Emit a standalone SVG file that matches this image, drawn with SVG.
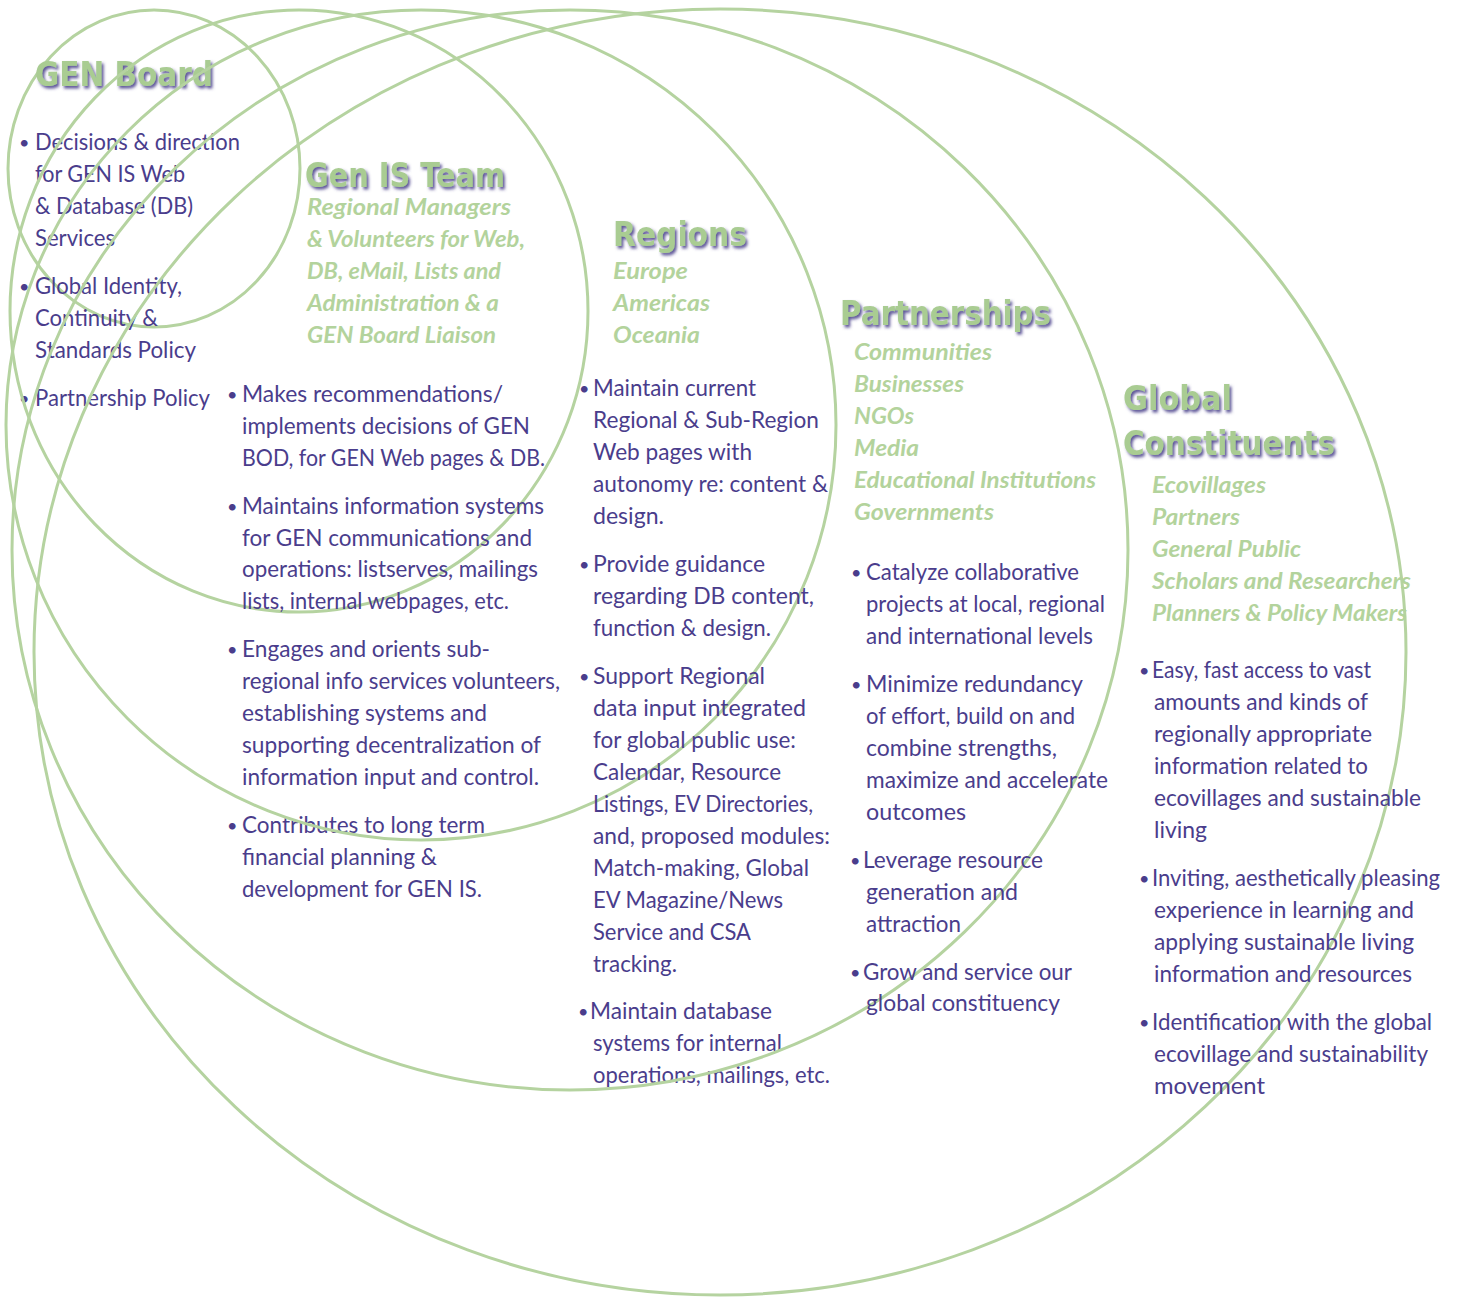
<svg xmlns="http://www.w3.org/2000/svg" width="1459" height="1297" viewBox="0 0 1459 1297">
<defs>
<filter id="sh" x="-10%" y="-30%" width="130%" height="170%">
<feDropShadow dx="2" dy="2.5" stdDeviation="1.6" flood-color="#3f3585" flood-opacity="0.85"/>
</filter>
</defs>
<style>
.ring{fill:none;stroke:#b5d3a0;stroke-width:3}
.h{font-family:"DejaVu Sans",Verdana,sans-serif;font-weight:bold;font-size:33px;fill:#a9cc92;filter:url(#sh)}
.s{font-family:Lato,"Open Sans",sans-serif;font-weight:bold;font-style:italic;font-size:23px;fill:#b3d39c}
.t{font-family:Lato,"Open Sans",sans-serif;font-size:24px;fill:#4a3d8c}
.g{font-size:23px}
.b{font-family:Lato,"Open Sans",sans-serif;font-size:18px;fill:#4a3d8c}
</style>
<rect width="1459" height="1297" fill="#ffffff"/>

<g id="gen-board">
<ellipse class="ring" cx="154" cy="168.5" rx="146" ry="158.5"/>
<text class="h" x="35" y="86" textLength="178" lengthAdjust="spacingAndGlyphs">GEN Board</text>
<text class="b" x="19" y="149">•</text>
<text class="t" x="35" y="150" textLength="205" lengthAdjust="spacingAndGlyphs">Decisions &amp; direction</text>
<text class="t" x="35" y="182" textLength="150" lengthAdjust="spacingAndGlyphs">for GEN  IS Web</text>
<text class="t" x="35" y="214" textLength="158" lengthAdjust="spacingAndGlyphs">&amp; Database (DB)</text>
<text class="t" x="35" y="246" textLength="80" lengthAdjust="spacingAndGlyphs">Services</text>
<text class="b" x="19" y="293">•</text>
<text class="t" x="35" y="294" textLength="147" lengthAdjust="spacingAndGlyphs">Global Identity,</text>
<text class="t" x="35" y="326" textLength="123" lengthAdjust="spacingAndGlyphs">Continuity &amp;</text>
<text class="t" x="35" y="358" textLength="161" lengthAdjust="spacingAndGlyphs">Standards Policy</text>
<text class="b" x="19" y="405">•</text>
<text class="t" x="35" y="406" textLength="175" lengthAdjust="spacingAndGlyphs">Partnership Policy</text>
</g>

<g id="gen-is-team">
<ellipse class="ring" cx="299" cy="311" rx="289" ry="301"/>
<text class="h" x="305" y="187" textLength="200" lengthAdjust="spacingAndGlyphs">Gen IS Team</text>
<text class="s" x="307" y="215" textLength="204" lengthAdjust="spacingAndGlyphs">Regional Managers</text>
<text class="s" x="307" y="247" textLength="218" lengthAdjust="spacingAndGlyphs">&amp; Volunteers for Web,</text>
<text class="s" x="307" y="279" textLength="194" lengthAdjust="spacingAndGlyphs">DB, eMail, Lists and</text>
<text class="s" x="307" y="311" textLength="192" lengthAdjust="spacingAndGlyphs">Administration &amp; a</text>
<text class="s" x="307" y="343" textLength="189" lengthAdjust="spacingAndGlyphs">GEN Board Liaison</text>
<text class="b" x="227" y="401">•</text>
<text class="t" x="242" y="402" textLength="261" lengthAdjust="spacingAndGlyphs">Makes recommendations/</text>
<text class="t" x="242" y="434" textLength="288" lengthAdjust="spacingAndGlyphs">implements decisions of GEN</text>
<text class="t" x="242" y="466" textLength="303" lengthAdjust="spacingAndGlyphs">BOD,  for GEN Web pages &amp; DB.</text>
<text class="b" x="227" y="513">•</text>
<text class="t" x="242" y="514" textLength="302" lengthAdjust="spacingAndGlyphs">Maintains information systems</text>
<text class="t" x="242" y="546" textLength="290" lengthAdjust="spacingAndGlyphs">for GEN communications and</text>
<text class="t" x="242" y="577" textLength="296" lengthAdjust="spacingAndGlyphs">operations:  listserves, mailings</text>
<text class="t" x="242" y="609" textLength="267" lengthAdjust="spacingAndGlyphs">lists, internal webpages, etc.</text>
<text class="b" x="227" y="656">•</text>
<text class="t" x="242" y="657" textLength="248" lengthAdjust="spacingAndGlyphs">Engages and orients sub-</text>
<text class="t g" x="242" y="689" textLength="318" lengthAdjust="spacingAndGlyphs">regional info services volunteers,</text>
<text class="t" x="242" y="721" textLength="245" lengthAdjust="spacingAndGlyphs">establishing systems and</text>
<text class="t" x="242" y="753" textLength="299" lengthAdjust="spacingAndGlyphs">supporting decentralization of</text>
<text class="t" x="242" y="785" textLength="297" lengthAdjust="spacingAndGlyphs">information input and control.</text>
<text class="b" x="227" y="832">•</text>
<text class="t" x="242" y="833" textLength="243" lengthAdjust="spacingAndGlyphs">Contributes to long term</text>
<text class="t" x="242" y="865" textLength="195" lengthAdjust="spacingAndGlyphs">financial planning &amp;</text>
<text class="t" x="242" y="897" textLength="240" lengthAdjust="spacingAndGlyphs">development for GEN IS.</text>
</g>

<g id="regions">
<ellipse class="ring" cx="421" cy="425" rx="415" ry="415"/>
<text class="h" x="613" y="246" textLength="134" lengthAdjust="spacingAndGlyphs">Regions</text>
<text class="s" x="613" y="279" textLength="75" lengthAdjust="spacingAndGlyphs">Europe</text>
<text class="s" x="613" y="311" textLength="97" lengthAdjust="spacingAndGlyphs">Americas</text>
<text class="s" x="613" y="343" textLength="87" lengthAdjust="spacingAndGlyphs">Oceania</text>
<text class="b" x="579" y="395">•</text>
<text class="t" x="593" y="396" textLength="163" lengthAdjust="spacingAndGlyphs">Maintain current</text>
<text class="t" x="593" y="428" textLength="226" lengthAdjust="spacingAndGlyphs">Regional &amp; Sub-Region</text>
<text class="t" x="593" y="460" textLength="159" lengthAdjust="spacingAndGlyphs">Web pages with</text>
<text class="t" x="593" y="492" textLength="235" lengthAdjust="spacingAndGlyphs">autonomy re:  content &amp;</text>
<text class="t" x="593" y="524" textLength="71" lengthAdjust="spacingAndGlyphs">design.</text>
<text class="b" x="579" y="571">•</text>
<text class="t" x="593" y="572" textLength="172" lengthAdjust="spacingAndGlyphs">Provide guidance</text>
<text class="t" x="593" y="604" textLength="221" lengthAdjust="spacingAndGlyphs">regarding DB  content,</text>
<text class="t" x="593" y="636" textLength="178" lengthAdjust="spacingAndGlyphs">function &amp; design.</text>
<text class="b" x="579" y="683">•</text>
<text class="t" x="593" y="684" textLength="172" lengthAdjust="spacingAndGlyphs">Support Regional</text>
<text class="t" x="593" y="716" textLength="213" lengthAdjust="spacingAndGlyphs">data input  integrated</text>
<text class="t" x="593" y="748" textLength="203" lengthAdjust="spacingAndGlyphs">for global public use:</text>
<text class="t" x="593" y="780" textLength="188" lengthAdjust="spacingAndGlyphs">Calendar,  Resource</text>
<text class="t" x="593" y="812" textLength="220" lengthAdjust="spacingAndGlyphs">Listings, EV Directories,</text>
<text class="t" x="593" y="844" textLength="237" lengthAdjust="spacingAndGlyphs">and, proposed modules:</text>
<text class="t" x="593" y="876" textLength="216" lengthAdjust="spacingAndGlyphs">Match-making, Global</text>
<text class="t" x="593" y="908" textLength="190" lengthAdjust="spacingAndGlyphs">EV Magazine/News</text>
<text class="t" x="593" y="940" textLength="158" lengthAdjust="spacingAndGlyphs">Service and CSA</text>
<text class="t" x="593" y="972" textLength="84" lengthAdjust="spacingAndGlyphs">tracking.</text>
<text class="b" x="578" y="1018">•</text>
<text class="t" x="590" y="1019" textLength="182" lengthAdjust="spacingAndGlyphs">Maintain database</text>
<text class="t" x="593" y="1051" textLength="189" lengthAdjust="spacingAndGlyphs">systems for internal</text>
<text class="t" x="593" y="1083" textLength="237" lengthAdjust="spacingAndGlyphs">operations, mailings, etc.</text>
</g>

<g id="partnerships">
<ellipse class="ring" cx="570" cy="550" rx="558" ry="540"/>
<text class="h" x="840" y="325" textLength="211" lengthAdjust="spacingAndGlyphs">Partnerships</text>
<text class="s" x="854" y="360" textLength="138" lengthAdjust="spacingAndGlyphs">Communities</text>
<text class="s" x="854" y="392" textLength="110" lengthAdjust="spacingAndGlyphs">Businesses</text>
<text class="s" x="854" y="424" textLength="60" lengthAdjust="spacingAndGlyphs">NGOs</text>
<text class="s" x="854" y="456" textLength="65" lengthAdjust="spacingAndGlyphs">Media</text>
<text class="s" x="854" y="488" textLength="242" lengthAdjust="spacingAndGlyphs">Educational Institutions</text>
<text class="s" x="854" y="520" textLength="140" lengthAdjust="spacingAndGlyphs">Governments</text>
<text class="b" x="851" y="579">•</text>
<text class="t" x="866" y="580" textLength="213" lengthAdjust="spacingAndGlyphs">Catalyze collaborative</text>
<text class="t" x="866" y="612" textLength="239" lengthAdjust="spacingAndGlyphs">projects at local, regional</text>
<text class="t" x="866" y="644" textLength="227" lengthAdjust="spacingAndGlyphs">and international levels</text>
<text class="b" x="851" y="691">•</text>
<text class="t" x="866" y="692" textLength="217" lengthAdjust="spacingAndGlyphs">Minimize redundancy</text>
<text class="t" x="866" y="724" textLength="209" lengthAdjust="spacingAndGlyphs">of effort, build on and</text>
<text class="t" x="866" y="756" textLength="191" lengthAdjust="spacingAndGlyphs">combine strengths,</text>
<text class="t" x="866" y="788" textLength="242" lengthAdjust="spacingAndGlyphs">maximize and accelerate</text>
<text class="t" x="866" y="820" textLength="100" lengthAdjust="spacingAndGlyphs">outcomes</text>
<text class="b" x="850" y="867">•</text>
<text class="t" x="863" y="868" textLength="180" lengthAdjust="spacingAndGlyphs">Leverage resource</text>
<text class="t" x="866" y="900" textLength="152" lengthAdjust="spacingAndGlyphs">generation and</text>
<text class="t" x="866" y="932" textLength="95" lengthAdjust="spacingAndGlyphs">attraction</text>
<text class="b" x="850" y="979">•</text>
<text class="t" x="863" y="980" textLength="209" lengthAdjust="spacingAndGlyphs">Grow and service our</text>
<text class="t" x="866" y="1011" textLength="194" lengthAdjust="spacingAndGlyphs">global constituency</text>
</g>

<g id="global-constituents">
<ellipse class="ring" cx="720" cy="652" rx="686" ry="643"/>
<text class="h" x="1123" y="410" textLength="109" lengthAdjust="spacingAndGlyphs">Global</text>
<text class="h" x="1123" y="455" textLength="212" lengthAdjust="spacingAndGlyphs">Constituents</text>
<text class="s" x="1152" y="493" textLength="114" lengthAdjust="spacingAndGlyphs">Ecovillages</text>
<text class="s" x="1152" y="525" textLength="88" lengthAdjust="spacingAndGlyphs">Partners</text>
<text class="s" x="1152" y="557" textLength="149" lengthAdjust="spacingAndGlyphs">General Public</text>
<text class="s" x="1152" y="589" textLength="259" lengthAdjust="spacingAndGlyphs">Scholars and Researchers</text>
<text class="s" x="1152" y="621" textLength="255" lengthAdjust="spacingAndGlyphs">Planners &amp; Policy Makers</text>
<text class="b" x="1139" y="677">•</text>
<text class="t" x="1152" y="678" textLength="219" lengthAdjust="spacingAndGlyphs">Easy, fast access to vast</text>
<text class="t" x="1154" y="710" textLength="214" lengthAdjust="spacingAndGlyphs">amounts and kinds of</text>
<text class="t" x="1154" y="742" textLength="218" lengthAdjust="spacingAndGlyphs">regionally appropriate</text>
<text class="t" x="1154" y="774" textLength="214" lengthAdjust="spacingAndGlyphs">information related to</text>
<text class="t" x="1154" y="806" textLength="267" lengthAdjust="spacingAndGlyphs">ecovillages and sustainable</text>
<text class="t" x="1154" y="838" textLength="53" lengthAdjust="spacingAndGlyphs">living</text>
<text class="b" x="1139" y="885">•</text>
<text class="t g" x="1152" y="886" textLength="288" lengthAdjust="spacingAndGlyphs">Inviting, aesthetically pleasing</text>
<text class="t" x="1154" y="918" textLength="260" lengthAdjust="spacingAndGlyphs">experience in learning and</text>
<text class="t" x="1154" y="950" textLength="260" lengthAdjust="spacingAndGlyphs">applying sustainable living</text>
<text class="t" x="1154" y="982" textLength="258" lengthAdjust="spacingAndGlyphs">information and resources</text>
<text class="b" x="1139" y="1029">•</text>
<text class="t" x="1152" y="1030" textLength="280" lengthAdjust="spacingAndGlyphs">Identification with the global</text>
<text class="t" x="1154" y="1062" textLength="274" lengthAdjust="spacingAndGlyphs">ecovillage and sustainability</text>
<text class="t" x="1154" y="1094" textLength="111" lengthAdjust="spacingAndGlyphs">movement</text>
</g>

<g id="connectors"></g>
</svg>
